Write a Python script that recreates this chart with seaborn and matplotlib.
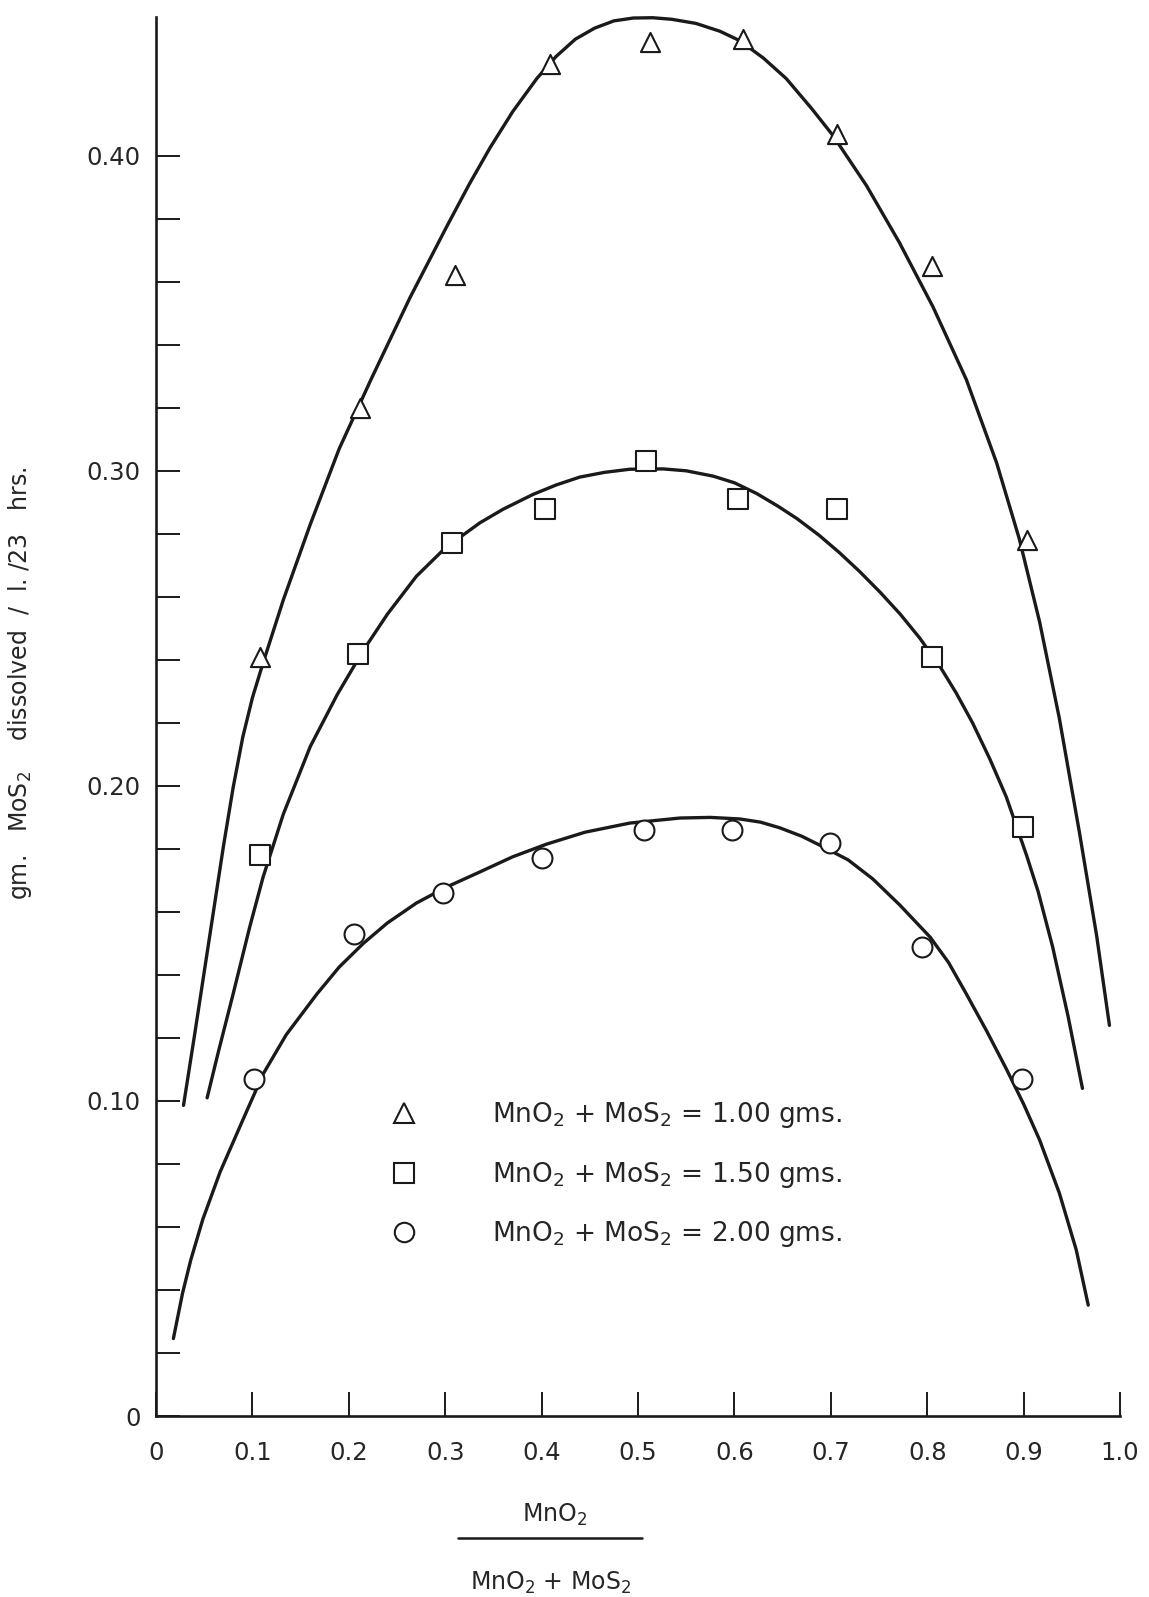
import matplotlib
matplotlib.use("Agg")
import matplotlib.pyplot as plt
import seaborn as sns
from matplotlib.lines import Line2D

# measured points (x = MnO2 / (MnO2 + MoS2), y = gm MoS2 dissolved)
tri_x = [0.108, 0.212, 0.310, 0.409, 0.512, 0.609, 0.706, 0.805, 0.903]
tri_y = [0.241, 0.320, 0.362, 0.429, 0.436, 0.437, 0.407, 0.365, 0.278]
sq_x = [0.108, 0.210, 0.307, 0.403, 0.508, 0.604, 0.706, 0.805, 0.899]
sq_y = [0.178, 0.242, 0.277, 0.288, 0.303, 0.291, 0.288, 0.241, 0.187]
circ_x = [0.102, 0.205, 0.298, 0.400, 0.506, 0.597, 0.699, 0.795, 0.898]
circ_y = [0.107, 0.153, 0.166, 0.177, 0.186, 0.186, 0.182, 0.149, 0.107]

# hand drawn curves
tri_curve_x = [0.0285, 0.040, 0.050, 0.060, 0.070, 0.080, 0.090, 0.100, 0.111, 0.132,
               0.160, 0.190, 0.223, 0.2635, 0.3015, 0.325, 0.3464, 0.370, 0.395, 0.415,
               0.435, 0.455, 0.475, 0.495, 0.515, 0.535, 0.560, 0.585, 0.6056, 0.630,
               0.6537, 0.680, 0.702, 0.737, 0.771, 0.806, 0.8405, 0.872, 0.8955, 0.9166,
               0.937, 0.958, 0.9757, 0.989]
tri_curve_y = [0.0986, 0.121, 0.141, 0.161, 0.181, 0.1995, 0.2155, 0.228, 0.239, 0.259,
               0.283, 0.307, 0.329, 0.355, 0.3775, 0.391, 0.4025, 0.414, 0.4245, 0.4315,
               0.437, 0.4405, 0.4428, 0.4437, 0.4438, 0.4433, 0.4420, 0.4395, 0.4365, 0.4310,
               0.4245, 0.415, 0.4065, 0.3905, 0.3725, 0.352, 0.329, 0.3025, 0.2784, 0.252,
               0.2215, 0.185, 0.1525, 0.124]
sq_curve_x = [0.053, 0.065, 0.080, 0.097, 0.111, 0.132, 0.160, 0.188, 0.215, 0.240,
              0.270, 0.300, 0.336, 0.360, 0.391, 0.415, 0.4395, 0.465, 0.4915, 0.526,
              0.550, 0.578, 0.600, 0.623, 0.645, 0.665, 0.688, 0.709, 0.730, 0.751,
              0.772, 0.792, 0.813, 0.830, 0.847, 0.865, 0.882, 0.903, 0.915, 0.930,
              0.946, 0.961]
sq_curve_y = [0.101, 0.116, 0.134, 0.155, 0.171, 0.191, 0.2125, 0.229, 0.243, 0.2545,
              0.2665, 0.2755, 0.2835, 0.2878, 0.2925, 0.2955, 0.298, 0.2995, 0.3005, 0.3006,
              0.3000, 0.2983, 0.2962, 0.2928, 0.2888, 0.2848, 0.2795, 0.2740, 0.2680, 0.2615,
              0.2545, 0.2470, 0.2380, 0.2295, 0.2200, 0.2085, 0.1965, 0.1780, 0.1665, 0.149,
              0.127, 0.104]
circ_curve_x = [0.018, 0.0275, 0.036, 0.0486, 0.0665, 0.0908, 0.111, 0.135, 0.167, 0.190,
                0.215, 0.240, 0.270, 0.300, 0.336, 0.370, 0.405, 0.445, 0.4915, 0.5434,
                0.575, 0.6056, 0.627, 0.647, 0.670, 0.6917, 0.718, 0.7434, 0.7715, 0.803,
                0.822, 0.8405, 0.862, 0.882, 0.900, 0.9166, 0.937, 0.9546, 0.967]
circ_curve_y = [0.0246, 0.039, 0.0495, 0.0625, 0.0775, 0.0945, 0.1085, 0.121, 0.134, 0.1425,
                0.150, 0.1565, 0.1628, 0.1677, 0.1727, 0.1775, 0.1815, 0.1853, 0.1882, 0.1898,
                0.1900, 0.1895, 0.1885, 0.1867, 0.1840, 0.1807, 0.1765, 0.1705, 0.1622, 0.1520,
                0.1440, 0.1340, 0.1220, 0.1102, 0.0990, 0.0876, 0.0708, 0.0527, 0.0352]

x_ticks = [0, 0.1, 0.2, 0.3, 0.4, 0.5, 0.6, 0.7, 0.8, 0.9, 1.0]
x_ticklabels = ["0", "0.1", "0.2", "0.3", "0.4", "0.5", "0.6", "0.7", "0.8", "0.9", "1.0"]
y_ticks = [0, 0.10, 0.20, 0.30, 0.40]
y_ticklabels = ["0", "0.10", "0.20", "0.30", "0.40"]
y_minor = [0.02, 0.04, 0.06, 0.08, 0.12, 0.14, 0.16, 0.18, 0.22, 0.24, 0.26, 0.28,
           0.32, 0.34, 0.36, 0.38]
labels = ["MnO$_2$ + MoS$_2$ = 1.00 gms.",
          "MnO$_2$ + MoS$_2$ = 1.50 gms.",
          "MnO$_2$ + MoS$_2$ = 2.00 gms."]

sns.set_theme(style="white")
plt.rcParams['font.family'] = ['DejaVu Sans']
plt.rcParams['mathtext.fontset'] = 'dejavusans'

ink = '#1a1a1a'
txt = '#262626'
fig = plt.figure(figsize=(11.49, 15.97), dpi=100)
ax = fig.add_axes([0.1358, 0.1133, 0.839, 0.876])

# curves
for cx, cy in [(tri_curve_x, tri_curve_y), (sq_curve_x, sq_curve_y), (circ_curve_x, circ_curve_y)]:
    sns.lineplot(x=cx, y=cy, sort=False, estimator=None, color=ink, lw=2.4,
                 ax=ax, clip_on=False, zorder=2, solid_joinstyle='round')

# points
for px, py, mk, sz in [(tri_x, tri_y, '^', 190), (sq_x, sq_y, 's', 210), (circ_x, circ_y, 'o', 205)]:
    sns.scatterplot(x=px, y=py, marker=mk, s=sz, color='white', edgecolor=ink,
                    linewidth=1.5, ax=ax, zorder=3, clip_on=False)

ax.set_xlim(0, 1.0)
ax.set_ylim(0, 0.444)
ax.set_xticks(x_ticks)
ax.set_xticklabels(x_ticklabels)
ax.set_yticks(y_ticks)
ax.set_yticklabels(y_ticklabels)
ax.set_yticks(y_minor, minor=True)

sns.despine(ax=ax)
for s in ['left', 'bottom']:
    ax.spines[s].set_linewidth(1.9)
    ax.spines[s].set_color(ink)
ax.tick_params(axis='both', which='both', direction='in', length=17, width=1.4,
               color=ink, labelsize=17.5, labelcolor=txt)
ax.tick_params(axis='x', which='major', bottom=True, pad=18)
ax.tick_params(axis='y', which='both', left=True, pad=11)

ax.set_ylabel("gm.   MoS$_2$    dissolved  /  l. /23   hrs.", fontsize=17, color=txt)
ax.yaxis.set_label_coords(-0.1266, 0.524)
ax.set_xlabel("")

# legend
handles = [Line2D([], [], ls='none', marker=m, ms=14, mfc='white', mec=ink, mew=1.5)
           for m in ['^', 's', 'o']]
ax.legend(handles, labels, loc='center left', bbox_to_anchor=(0.2436, 0.1725),
          frameon=False, fontsize=19, handlelength=1.0, handletextpad=2.83,
          labelspacing=1.12, borderpad=0, borderaxespad=0, labelcolor=txt)

# stacked fraction as x label
fig.text(0.483, 0.047, "MnO$_2$", ha='center', va='baseline', fontsize=17, color=txt)
fig.add_artist(Line2D([458 / 1149, 642 / 1149], [0.0369, 0.0369], color=ink, lw=1.8))
fig.text(0.479, 0.0044, "MnO$_2$ + MoS$_2$", ha='center', va='baseline', fontsize=17,
         color=txt)

fig.savefig("out.png", dpi=100, facecolor='white')
